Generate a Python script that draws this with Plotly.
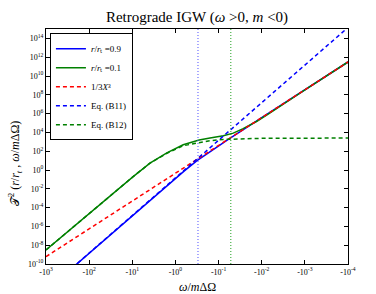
import plotly.graph_objects as go

# |omega / m DeltaOmega| (axis shows the negative values, magnitude decreasing to the right)
x_green = [1000, 316, 100, 42.7, 20, 9.55, 3.89, 1.58, 0.661, 0.282, 0.158, 0.0776,
           0.0457, 0.0269, 0.0132, 0.00708, 1e-3, 1e-4]
y_green = [3.09e-9, 2.82e-7, 2.51e-5, 6.61e-4, 1.26e-2, 0.200, 5.37, 66.1, 479, 1.58e3,
           2.51e3, 4.37e3, 8.32e3, 2.51e4, 1.45e5, 8.91e5, 3.39e8, 3.09e11]

x_blue = [1000, 100, 10, 1.58, 1.0, 0.631, 0.316, 0.158, 0.0631, 0.01, 1e-4]
y_blue = [1.45e-13, 1.45e-9, 1.45e-5, 0.0229, 0.132, 0.759, 10.0, 95.5, 1.55e3, 3.72e5, 3.09e11]

x_red = [1000, 1e-4]
y_red = [6.03e-10, 3.09e11]

x_b11 = [1000, 1e-4]
y_b11 = [1.45e-13, 1.45e15]

x_b12 = [1000, 316, 100, 42.7, 20, 9.55, 3.89, 1.58, 0.661, 0.282, 0.158, 0.0776,
         0.0316, 0.01, 1e-4]
y_b12 = [3.09e-9, 2.82e-7, 2.51e-5, 6.61e-4, 1.26e-2, 0.200, 5.37, 60.3, 380, 891,
         1318, 1778, 2138, 2344, 2512]

vline_blue = 0.30
vline_green = 0.052

x_ticks = [1e3, 1e2, 1e1, 1e0, 1e-1, 1e-2, 1e-3, 1e-4]
x_ticklabels = ["-10<sup>3</sup>", "-10<sup>2</sup>", "-10<sup>1</sup>", "-10<sup>0</sup>",
                "-10<sup>-1</sup>", "-10<sup>-2</sup>", "-10<sup>-3</sup>", "-10<sup>-4</sup>"]
y_exps = [-10, -8, -6, -4, -2, 0, 2, 4, 6, 8, 10, 12, 14]
y_ticks = [10.0 ** e for e in y_exps]
y_ticklabels = ["10<sup>%d</sup>" % e for e in y_exps]

BLUE = "#0000FF"
GREEN = "#008000"
RED = "#FF0000"
FONT = "Liberation Serif"
DASH = "4px,3px"

fig = go.Figure()
fig.add_trace(go.Scatter(x=x_blue, y=y_blue, mode="lines", line=dict(color=BLUE, width=1.5),
                         name="<i>r</i>/<i>r</i>ₜ =0.9"))
fig.add_trace(go.Scatter(x=x_green, y=y_green, mode="lines", line=dict(color=GREEN, width=1.5),
                         name="<i>r</i>/<i>r</i>ₜ =0.1"))
fig.add_trace(go.Scatter(x=x_red, y=y_red, mode="lines", line=dict(color=RED, width=1.5, dash=DASH),
                         name="1/3<i>X</i>³"))
fig.add_trace(go.Scatter(x=x_b11, y=y_b11, mode="lines", line=dict(color=BLUE, width=1.5, dash=DASH),
                         name="Eq. (B11)"))
fig.add_trace(go.Scatter(x=x_b12, y=y_b12, mode="lines", line=dict(color=GREEN, width=1.5, dash=DASH),
                         name="Eq. (B12)"))
fig.add_trace(go.Scatter(x=[vline_blue, vline_blue], y=[1e-10, 1e15], mode="lines",
                         line=dict(color="#5050FF", width=1, dash="1px,2px"), showlegend=False))
fig.add_trace(go.Scatter(x=[vline_green, vline_green], y=[1e-10, 1e15], mode="lines",
                         line=dict(color="#20A020", width=1, dash="1px,2px"), showlegend=False))

axis_common = dict(showline=True, linecolor="black", linewidth=1, mirror="allticks",
                   ticks="inside", ticklen=4, tickcolor="black", showgrid=False, zeroline=False,
                   tickfont=dict(family=FONT, size=8, color="black"))

fig.update_xaxes(type="log", range=[3, -4], tickvals=x_ticks, ticktext=x_ticklabels, **axis_common)
fig.update_yaxes(type="log", range=[-10, 15], tickvals=y_ticks, ticktext=y_ticklabels, **axis_common)

fig.update_layout(
    width=376, height=294,
    margin=dict(l=46, r=28, t=29, b=30),
    paper_bgcolor="white", plot_bgcolor="white",
    title=dict(text="Retrograde IGW (<i>ω</i> >0, <i>m</i> <0)", xref="paper", x=0.5, xanchor="center",
               y=1 - 16.7 / 294, yanchor="middle", font=dict(family=FONT, size=15, color="black")),
    legend=dict(x=0.013, y=0.982, xanchor="left", yanchor="top", bgcolor="white",
                bordercolor="black", borderwidth=1, itemwidth=30, tracegroupgap=0,
                font=dict(family=FONT, size=9, color="black")),
    showlegend=True,
    annotations=[
        dict(text="𝒯<sup>2</sup> (<i>r</i>/<i>r<sub>t</sub></i> , <i>ω</i>/<i>m</i>ΔΩ)",
             xref="paper", yref="paper", x=(15 - 46) / 302, y=(264 - 164) / 235,
             textangle=-90, showarrow=False, xanchor="center", yanchor="middle",
             font=dict(family=FONT, size=12, color="black")),
        dict(text="<i>ω</i>/<i>m</i>ΔΩ", xref="paper", yref="paper", x=0.5, y=(264 - 287) / 235,
             showarrow=False, xanchor="center", yanchor="middle",
             font=dict(family=FONT, size=12, color="black")),
    ],
)

fig.write_html("out.html", config={"displayModeBar": False},
               post_script="document.body.style.margin='0';")
